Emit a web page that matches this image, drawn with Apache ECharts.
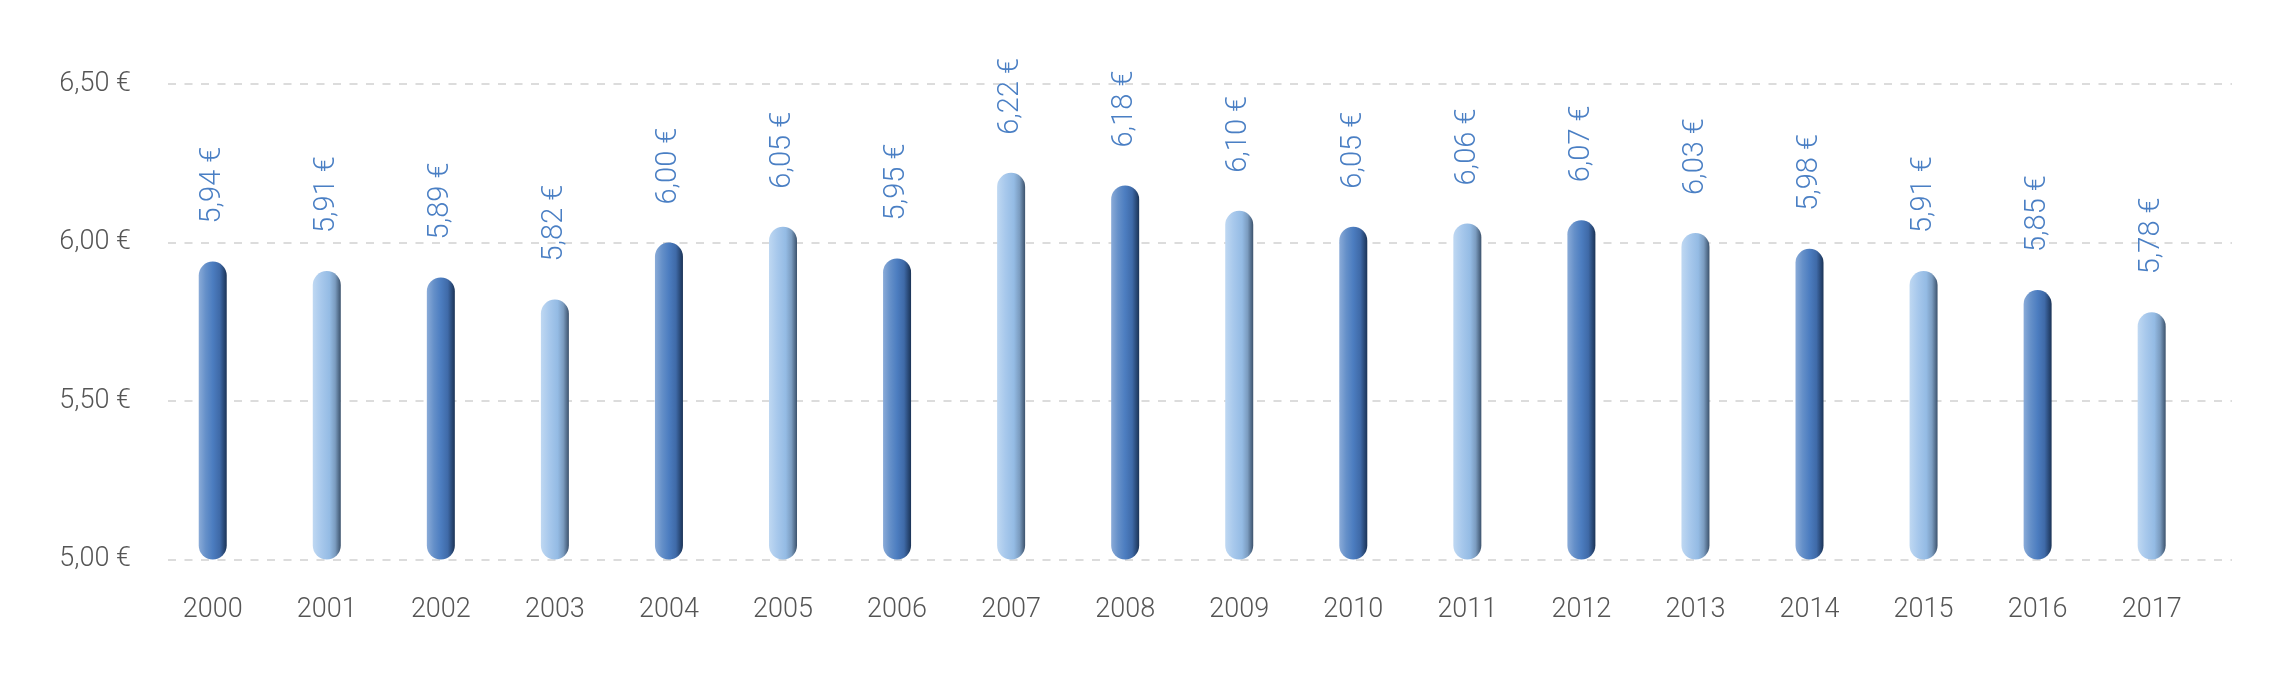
<!DOCTYPE html>
<html>
<head>
<meta charset="utf-8">
<script src="https://cdn.jsdelivr.net/npm/echarts@6/dist/echarts.min.js"></script>
<style>
html,body{margin:0;padding:0;background:#fff;}
#c{width:2284px;height:687px;}
</style>
</head>
<body>
<div id="c"></div>
<script>
const years = ['2000','2001','2002','2003','2004','2005','2006','2007','2008','2009','2010','2011','2012','2013','2014','2015','2016','2017'];
const prices = [5.94,5.91,5.89,5.82,6.00,6.05,5.95,6.22,6.18,6.10,6.05,6.06,6.07,6.03,5.98,5.91,5.85,5.78];
const yTicks = [5.0,5.5,6.0,6.5];

const FONT = "Roboto,'Noto Sans',sans-serif";
const fmt = v => v.toFixed(2).replace('.', ',') + ' €';

const darkGrad = {type:'linear',x:0,y:0,x2:1,y2:0,colorStops:[
  {offset:0,color:'#8aabd8'},{offset:0.25,color:'#6590c9'},{offset:0.5,color:'#4c7dc0'},
  {offset:0.75,color:'#3f6aa8'},{offset:1,color:'#1b3356'}]};
const lightGrad = {type:'linear',x:0,y:0,x2:1,y2:0,colorStops:[
  {offset:0,color:'#bfd8f2'},{offset:0.3,color:'#a7c8ec'},{offset:0.6,color:'#94bbe4'},
  {offset:0.8,color:'#7b9cc0'},{offset:1,color:'#3c526c'}]};

const chart = echarts.init(document.getElementById('c'), null, {renderer:'canvas'});
chart.setOption({
  animation:false,
  backgroundColor:'#ffffff',
  grid:[
    {left:168, right:52, top:84, bottom:127.4},
    {left:155.7, right:75.3, top:84, bottom:127.4}
  ],
  xAxis:[
    {gridIndex:0, type:'category', data:years, show:false},
    {gridIndex:1, type:'category', data:years,
     axisLine:{show:false}, axisTick:{show:false},
     axisLabel:{color:'#555555', fontFamily:FONT, fontWeight:300, fontSize:27, margin:37}}
  ],
  yAxis:[
    {gridIndex:0, type:'value', min:yTicks[0], max:yTicks[yTicks.length-1], interval:0.5,
     axisLine:{show:false}, axisTick:{show:false},
     axisLabel:{color:'#555555', fontFamily:FONT, fontWeight:300, fontSize:27, margin:37, formatter:v=>fmt(v)},
     splitLine:{show:true, lineStyle:{color:'#dcdcdc', width:2, type:[8,8.5]}}},
    {gridIndex:1, type:'value', min:yTicks[0], max:yTicks[yTicks.length-1], interval:0.5, show:false,
     splitLine:{show:false}}
  ],
  series:[{
    type:'bar', xAxisIndex:1, yAxisIndex:1,
    barWidth:28,
    data: prices.map((v,i)=>({value:v, itemStyle:{color: i%2===0 ? darkGrad : lightGrad}})),
    itemStyle:{borderRadius:14},
    label:{show:true, position:'top', rotate:90, align:'left', verticalAlign:'middle',
      distance:38, color:'#4a7fc4', fontFamily:FONT, fontWeight:300, fontSize:29,
      formatter:p=>fmt(p.value)}
  }]
});
</script>
</body>
</html>
